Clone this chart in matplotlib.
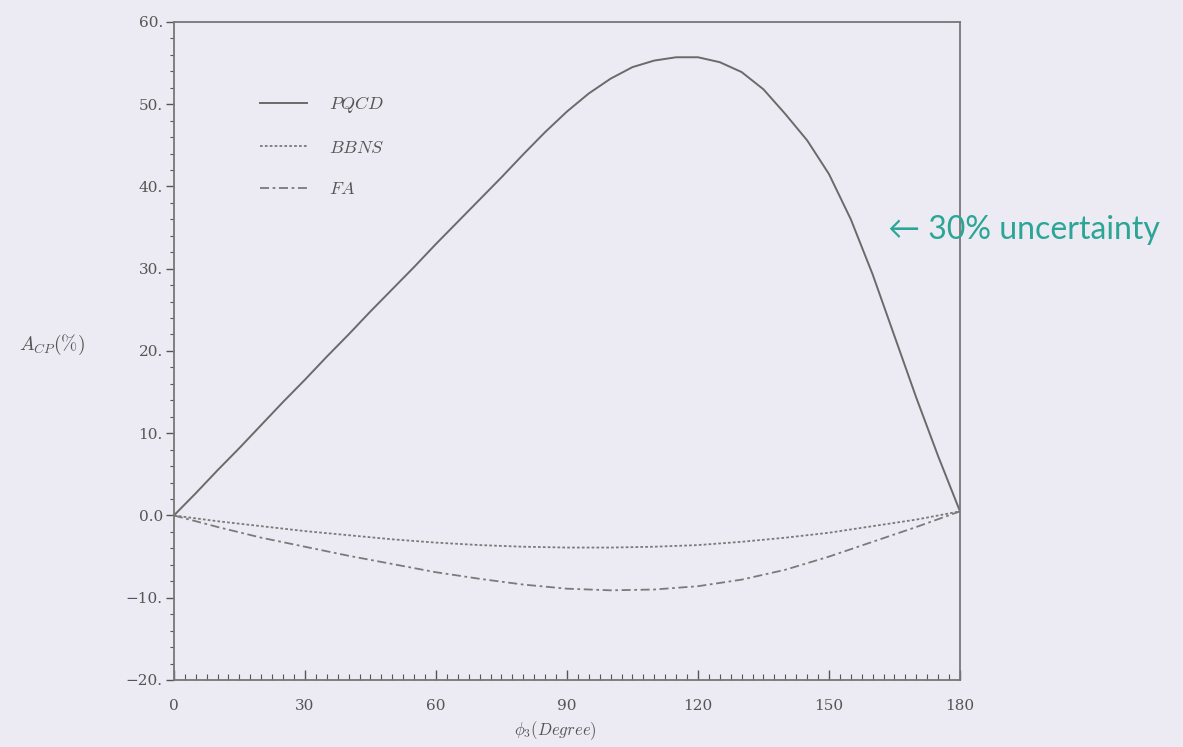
import matplotlib
matplotlib.use("Agg")
import matplotlib.pyplot as plt
from matplotlib.ticker import MultipleLocator, FixedLocator, FixedFormatter

plt.rcParams['mathtext.fontset'] = 'cm'
plt.rcParams['font.family'] = ['DejaVu Serif']

# phi_3 in degrees, A_CP in percent
phi_pqcd = [0, 5, 10, 15, 20, 25, 30, 35, 40, 45, 50, 55, 60, 65, 70, 75, 80, 85, 90,
            95, 100, 105, 110, 115, 120, 125, 130, 135, 140, 145, 150, 155, 160, 165, 170, 175, 180]
acp_pqcd = [0.0, 2.7, 5.5, 8.2, 11.0, 13.8, 16.5, 19.3, 22.0, 24.8, 27.5, 30.2, 33.0, 35.7, 38.4,
            41.1, 43.9, 46.6, 49.1, 51.3, 53.1, 54.5, 55.3, 55.7, 55.7, 55.1, 53.9, 51.8, 48.8,
            45.6, 41.5, 36.0, 29.3, 21.8, 14.3, 7.2, 0.5]

phi_other = [0, 10, 20, 30, 40, 50, 60, 70, 80, 90, 100, 110, 120, 130, 140, 150, 160, 170, 180]
acp_bbns = [0.0, -0.7, -1.3, -1.9, -2.4, -2.9, -3.3, -3.6, -3.8, -3.9, -3.9, -3.8, -3.6, -3.2,
            -2.7, -2.1, -1.3, -0.5, 0.5]
acp_fa = [0.0, -1.4, -2.7, -3.8, -4.9, -5.9, -6.9, -7.7, -8.4, -8.9, -9.1, -9.0, -8.6, -7.8,
          -6.6, -5.0, -3.2, -1.4, 0.5]

yticks = [-20, -10, 0, 10, 20, 30, 40, 50, 60]
ytick_labels = ["\u221220.", "\u221210.", "0.0", "10.", "20.", "30.", "40.", "50.", "60."]
xticks = [0, 30, 60, 90, 120, 150, 180]

bg = '#ecebf3'
ink = '#555555'

fig = plt.figure(figsize=(11.83, 7.47), dpi=100, facecolor=bg)
ax = fig.add_axes([0.147, 0.0897, 0.6645, 0.881], facecolor=bg)

ax.plot(phi_pqcd, acp_pqcd, color='#6a6a6a', lw=1.4, ls='-', label=r'$PQCD$')
ax.plot(phi_other, acp_bbns, color='#7a7a7a', lw=1.3, ls=(0, (1.5, 1.2)), label=r'$BBNS$')
ax.plot(phi_other, acp_fa, color='#7a7a7a', lw=1.3, ls=(0, (5, 2, 1.5, 2)), label=r'$FA$')

ax.set_xlim(0, 180)
ax.set_ylim(-20, 60)

ax.xaxis.set_major_locator(FixedLocator(xticks))
ax.xaxis.set_minor_locator(MultipleLocator(2.5))
ax.yaxis.set_major_locator(FixedLocator(yticks))
ax.yaxis.set_major_formatter(FixedFormatter(ytick_labels))
ax.yaxis.set_minor_locator(MultipleLocator(2))

ax.tick_params(axis='x', which='major', direction='in', length=7, width=1, colors=ink,
               labelsize=11, pad=14)
ax.tick_params(axis='x', which='minor', direction='in', length=4, width=0.8, colors=ink)
ax.tick_params(axis='y', which='major', direction='out', length=6, width=1, colors=ink,
               labelsize=11, pad=2)
ax.tick_params(axis='y', which='minor', direction='out', length=3, width=0.8, colors=ink)

for side in ['left', 'bottom', 'top', 'right']:
    ax.spines[side].set_color('#777777')
    ax.spines[side].set_linewidth(1.3)

leg = ax.legend(loc='upper left', bbox_to_anchor=(0.089, 0.915), frameon=False,
                fontsize=13, handlelength=2.6, handletextpad=1.2, labelspacing=1.3)
for t in leg.get_texts():
    t.set_color(ink)

fig.text(52 / 1183, 1 - 345 / 747, r'$A_{CP}(\%)$', fontsize=14, color=ink,
         ha='center', va='center')
fig.text(555 / 1183, 1 - 731 / 747, r'$\phi_3(Degree)$', fontsize=12, color=ink,
         ha='center', va='center')

fig.text(888 / 1183, 1 - 230 / 747, '\u2190 30% uncertainty', fontsize=23,
         color='#2aa596', family=['Lato', 'DejaVu Sans'], ha='left', va='center')

fig.savefig('out.png', dpi=100, facecolor=bg)
